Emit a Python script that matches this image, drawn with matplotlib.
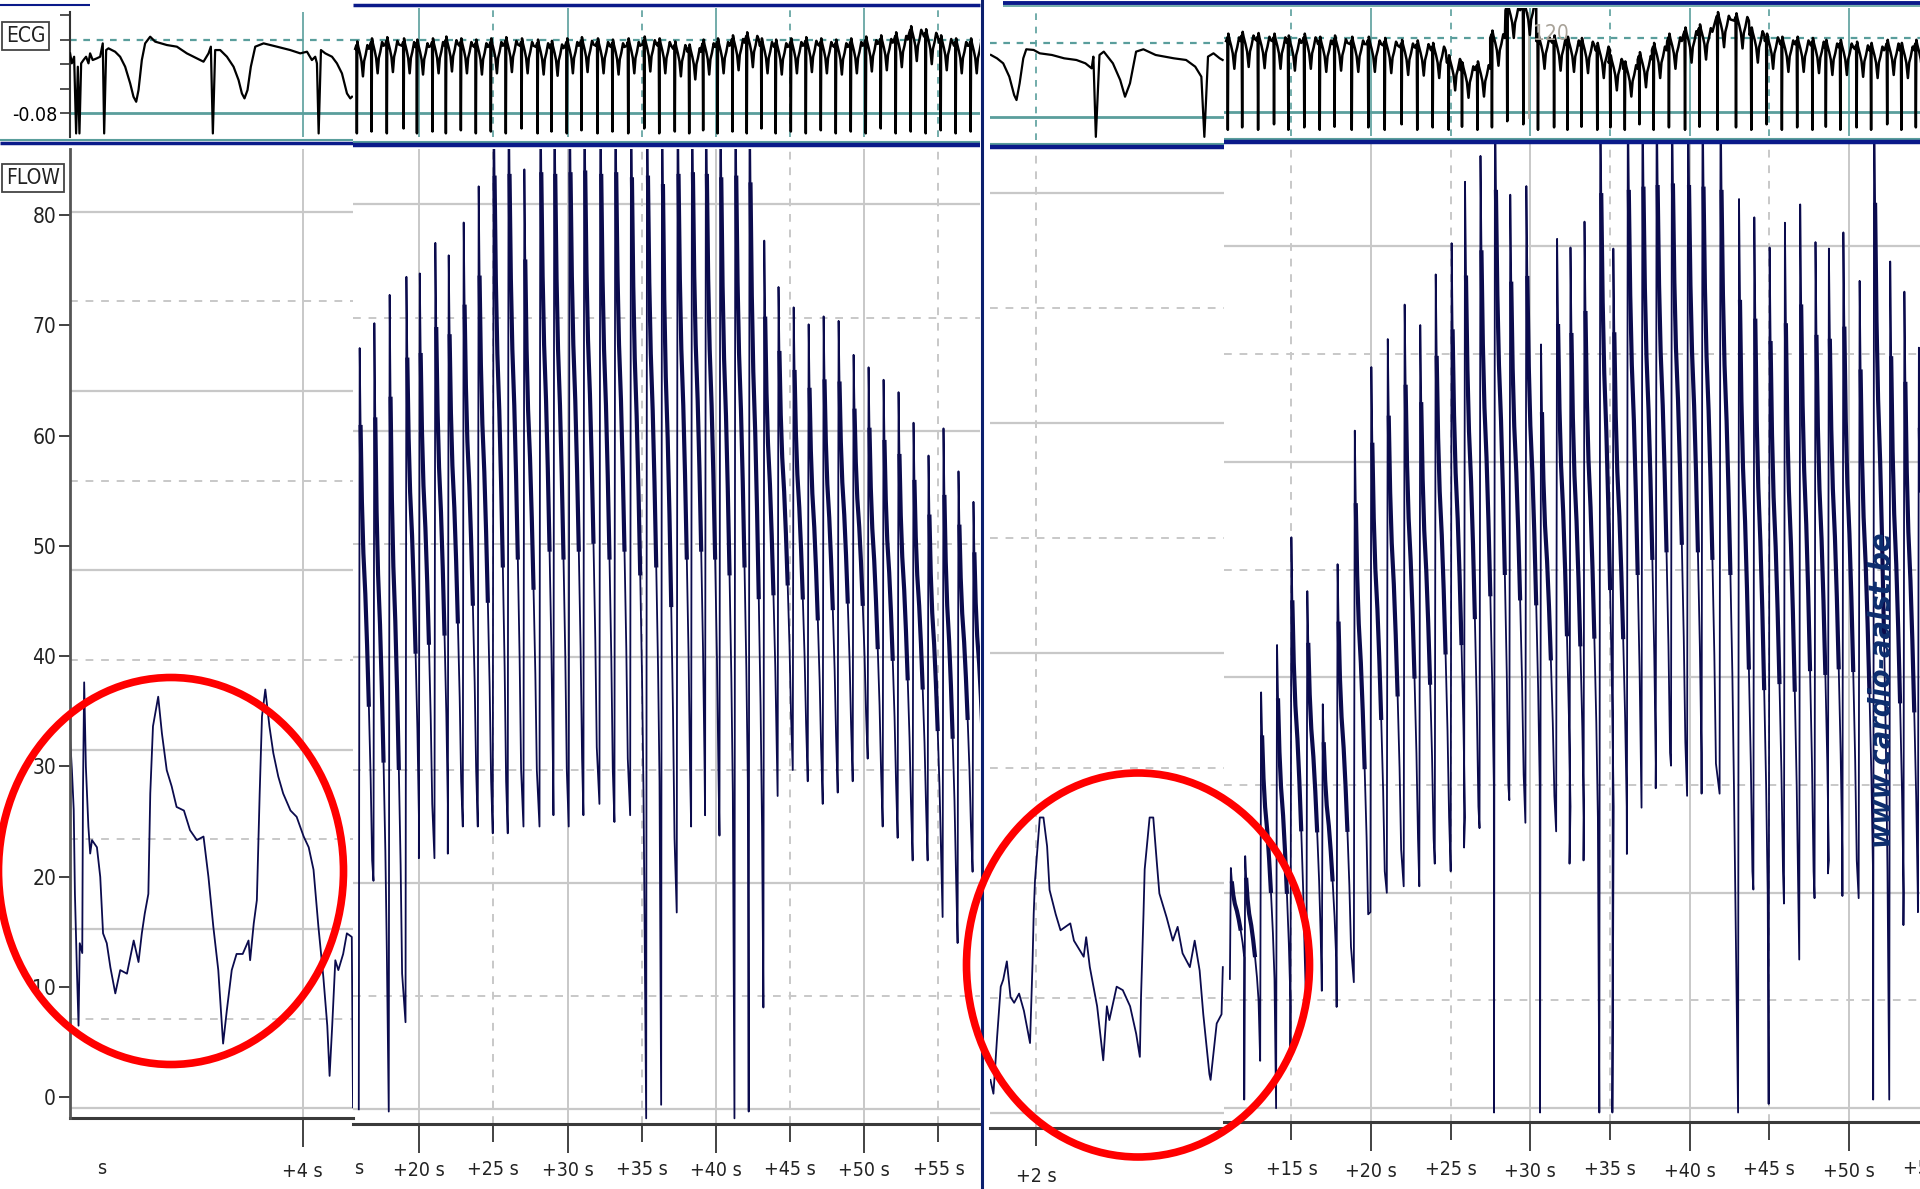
import matplotlib
matplotlib.use("Agg")
import matplotlib.pyplot as plt
from matplotlib.collections import LineCollection
from matplotlib.lines import Line2D
from matplotlib.patches import Ellipse

plt.rcParams["font.family"] = ["Liberation Sans Narrow", "DejaVu Sans"]
plt.rcParams["font.stretch"] = "condensed"

W, H = 1920, 1189
NAVY = "#0b0b4d"
GRID = "#c8c8c8"
TEAL = "#5a9e9c"
BAND = "#0a1a8a"

# ---- left recording, first (zoomed) strip: flow trace, own units ----
l1_t = [1.683, 1.702, 1.720, 1.732, 1.751, 1.768, 1.780, 1.805, 1.812, 1.824, 1.841, 1.866,
        1.884, 1.902, 1.951, 1.984, 2.012, 2.049, 2.085, 2.134, 2.183, 2.250, 2.317, 2.365,
        2.398, 2.427, 2.463, 2.482, 2.509, 2.561, 2.598, 2.646, 2.695, 2.744, 2.817, 2.878,
        2.946, 3.012, 3.061, 3.110, 3.159, 3.207, 3.244, 3.293, 3.341, 3.402, 3.460, 3.476,
        3.512, 3.543, 3.571, 3.594, 3.627, 3.668, 3.707, 3.756, 3.805, 3.878, 3.939, 4.009,
        4.059, 4.107, 4.156, 4.205, 4.244, 4.267, 4.293, 4.324, 4.354, 4.402, 4.439, 4.488, 4.50]
l1_flow = [41.4, 37.7, 33.3, 23.9, 15.7, 9.2, 18.4, 17.3, 35.1, 47.5, 38.1, 31.4,
           28.4, 29.9, 29.1, 25.8, 19.5, 18.4, 15.7, 12.8, 15.4, 15.0, 18.7, 16.3,
           19.5, 21.7, 23.9, 35.1, 42.6, 45.9, 41.8, 37.7, 35.9, 33.6, 33.2, 31.0,
           29.9, 30.3, 25.8, 20.2, 15.4, 7.2, 10.9, 15.4, 17.2, 17.2, 18.7, 16.5,
           20.6, 23.2, 35.1, 43.7, 46.7, 42.6, 39.6, 37.0, 35.1, 33.2, 32.5, 30.3,
           29.1, 26.6, 20.2, 14.6, 9.2, 3.6, 9.2, 16.5, 15.4, 17.2, 19.5, 19.1, 0.1]

l1_ecg_t = [1.684, 1.701, 1.724, 1.744, 1.761, 1.777, 1.794, 1.817, 1.843, 1.867, 1.883, 1.909,
            1.949, 1.983, 2.009, 2.023, 2.043, 2.066, 2.099, 2.132, 2.182, 2.232, 2.282, 2.315,
            2.342, 2.365, 2.398, 2.431, 2.481, 2.531, 2.647, 2.747, 2.846, 2.946, 3.012, 3.062,
            3.085, 3.105, 3.128, 3.178, 3.245, 3.311, 3.361, 3.394, 3.420, 3.450, 3.483, 3.527,
            3.610, 3.743, 3.875, 3.975, 4.042, 4.091, 4.124, 4.141, 4.158, 4.181, 4.224, 4.291,
            4.340, 4.390, 4.440, 4.473, 4.490]
l1_ecg = [0.0175, 0.0012, 0.012, -0.1132, -0.0043, -0.1132, 0.0012, 0.0066, 0.012, 0.0012, 0.0175, 0.0066,
          0.0093, 0.012, 0.0338, -0.1132, 0.0229, 0.0257, 0.0229, 0.0202, 0.012, -0.0043, -0.0315, -0.0533,
          -0.0615, -0.0424, 0.0066, 0.0338, 0.0447, 0.0366, 0.0311, 0.0284, 0.0175, 0.0093, 0.0039, 0.0175,
          0.0284, -0.1132, 0.0229, 0.0229, 0.012, -0.0043, -0.0261, -0.0479, -0.0560, -0.0424, -0.0043, 0.0284,
          0.0338, 0.0284, 0.0229, 0.0175, 0.0202, 0.0066, 0.012, 0.0012, -0.1132, 0.0229, 0.0175, 0.012,
          0.0012, -0.0152, -0.0479, -0.0560, -0.0533]

# ---- left recording, compressed strip: one entry per beat ----
l2_beat_t = [15.99, 16.98, 18.01, 19.14, 20.04, 21.09, 21.99, 23.0, 24.01, 25.02, 26.03, 27.09,
             28.17, 29.11, 30.14, 31.13, 32.21, 33.22, 34.28, 35.36, 36.37, 37.42, 38.39, 39.33,
             40.3, 41.31, 42.27, 43.26, 44.22, 45.24, 46.25, 47.26, 48.27, 49.28, 50.29, 51.3,
             52.31, 53.32, 54.33, 55.34, 56.35, 57.36]
l2_peak = [67.3, 69.5, 72.0, 73.6, 73.9, 76.6, 75.5, 78.4, 81.6, 92, 92, 83.1,
           92, 92, 92, 92, 92, 92, 92, 92, 92, 92, 92, 92,
           92, 92, 92, 76.8, 72.7, 70.9, 69.4, 70.1, 69.7, 66.7, 65.6, 64.5,
           63.4, 60.7, 57.8, 60.2, 56.4, 53.7]
l2_dip = [0, 20.2, -0.2, 7.7, 22.2, 22.2, 22.6, 25, 25, 24.4, 24.4, 25,
          25, 26, 25, 26, 27, 25.4, 26, -0.8, 0.4, 17.4, 25, 26,
          24.2, -0.8, -0.2, 9, 27.7, 30, 29, 27, 28, 29, 31, 25,
          24, 22, 22, 17, 14.7, 21]
l2_low = [22, 14, 12, 26, 27, 27, 29, 30, 29, 29, 30, 30,
          31, 30, 31, 32, 30, 31, 28, 29, 24, 30, 31, 30,
          28, 29, 25, 32, 35, 34, 32, 33, 34, 35, 30, 29,
          27, 27, 23, 21, 25, 24]
l2_ecg_base = [0.025, 0.03, 0.032, 0.03, 0.028, 0.03, 0.033, 0.03, 0.028, 0.03, 0.032, 0.03,
               0.028, 0.026, 0.03, 0.032, 0.03, 0.028, 0.03, 0.033, 0.03, 0.025, 0.02, 0.028,
               0.03, 0.035, 0.04, 0.03, 0.028, 0.03, 0.032, 0.03, 0.028, 0.03, 0.033, 0.035,
               0.04, 0.05, 0.045, 0.035, 0.03, 0.03]
l2_ecg_spike = [-0.113, -0.11, -0.113, -0.105, -0.113, -0.11, -0.113, -0.108, -0.113, -0.11, -0.113, -0.105,
                -0.113, -0.11, -0.113, -0.108, -0.113, -0.11, -0.113, -0.105, -0.113, -0.11, -0.113, -0.108,
                -0.113, -0.11, -0.113, -0.105, -0.113, -0.11, -0.113, -0.108, -0.113, -0.11, -0.113, -0.105,
                -0.113, -0.11, -0.113, -0.108, -0.113, -0.11]

# ---- right recording, first (zoomed) strip ----
r1_t = [1.574, 1.602, 1.636, 1.670, 1.693, 1.727, 1.761, 1.795, 1.841, 1.886, 1.943, 1.966,
        1.977, 1.989, 2.034, 2.068, 2.102, 2.125, 2.182, 2.227, 2.318, 2.352, 2.443, 2.466,
        2.5, 2.568, 2.625, 2.659, 2.682, 2.75, 2.807, 2.875, 2.932, 2.966, 2.977, 3.0,
        3.011, 3.057, 3.091, 3.125, 3.148, 3.216, 3.273, 3.318, 3.364, 3.432, 3.477, 3.523,
        3.557, 3.614, 3.625, 3.682, 3.727, 3.739]
r1_flow = [2.9, 1.7, 6.6, 11.0, 11.6, 13.2, 10.1, 9.6, 10.4, 8.9, 6.1, 13.0,
           17.3, 20.2, 25.7, 25.7, 23.2, 19.4, 17.3, 15.9, 16.5, 15.0, 13.6, 15.3,
           12.7, 9.3, 4.6, 9.3, 8.1, 11.0, 10.7, 9.3, 6.9, 4.9, 10.1, 17.3,
           21.2, 25.7, 25.7, 21.7, 19.1, 17.0, 15.0, 16.2, 13.9, 12.7, 15.0, 12.4,
           8.6, 3.4, 2.9, 7.8, 8.6, 12.7]

r1_ecg_t = [1.579, 1.635, 1.693, 1.750, 1.795, 1.817, 1.846, 1.880, 1.908, 1.977, 2.033, 2.147,
            2.261, 2.375, 2.459, 2.517, 2.533, 2.556, 2.590, 2.630, 2.715, 2.783, 2.828, 2.874,
            2.931, 2.999, 3.113, 3.283, 3.397, 3.482, 3.539, 3.567, 3.601, 3.652, 3.710, 3.737]
r1_ecg = [0.0205, 0.0151, 0.0070, -0.0146, -0.0443, -0.0524, -0.0254, 0.0151, 0.0297, 0.0286, 0.0232, 0.0205,
          0.0151, 0.0124, 0.0070, -0.0011, 0.0178, -0.1119, 0.0205, 0.0259, 0.0070, -0.0200, -0.0470, -0.0254,
          0.0259, 0.0297, 0.0205, 0.0151, 0.0124, 0.0016, -0.0146, -0.1119, 0.0178, 0.0232, 0.0151, 0.0124]

# ---- right recording, compressed strip: one entry per beat ----
r2_beat_t = [11.2, 12.1, 13.1, 14.1, 15.0, 16.0, 16.97, 17.9, 18.98, 20.02, 21.05, 22.11,
             23.09, 24.06, 25.06, 25.9, 26.87, 27.78, 28.74, 29.75, 30.67, 31.68, 32.52, 33.4,
             34.39, 35.21, 36.12, 37.04, 37.93, 38.89, 39.9, 40.81, 41.94, 43.1, 44.06, 45.02,
             45.98, 46.94, 47.9, 48.74, 49.65, 50.67, 51.58, 52.59, 53.48, 54.39]
r2_peak = [22.3, 23.4, 38.6, 43, 53, 48, 37.5, 50.5, 62.9, 68.8, 71.4, 74.6,
           72.7, 77.4, 80.3, 86, 88.4, 95, 84.8, 85.6, 70.9, 80.7, 79.9, 82.3,
           95, 79.8, 95, 95, 95, 95, 95, 95, 95, 84.4, 82.7, 79.9,
           82.2, 83.9, 80.4, 79.8, 81.3, 76.8, 95, 78.6, 75.8, 70.6]
r2_dip = [12, 0.8, 4.4, 0, 4.7, 8.9, 10.9, 9.4, 11.7, 18.2, 20, 20.6,
          20.6, 22.7, 22, 24.2, 26, -0.4, 28.6, 26.5, -0.4, 25.7, 22.7, 23,
          -0.4, -0.4, 23.6, 27.9, 29.7, 31.8, 29, 29.2, 29.2, -0.4, 20.3, 0.4,
          19, 13.8, 19.5, 21.8, 19.7, 19.5, 0.8, 0.8, 17, 18.2]
r2_low = [14, 10, 12, 10, 14, 16, 14, 15, 18, 22, 24, 25,
          25, 27, 27, 28, 30, 30, 31, 30, 29, 28, 27, 27,
          28, 28, 30, 32, 33, 34, 33, 32, 30, 22, 20, 22,
          20, 22, 23, 24, 23, 22, 22, 20, 20, 21]
r2_ecg_base = [0.035, 0.038, 0.036, 0.035, 0.032, 0.035, 0.03, 0.032, 0.03, 0.03, 0.028, 0.025,
               0.024, 0.02, 0.0, -0.012, -0.01, 0.04, 0.085, 0.09, 0.035, 0.032, 0.03, 0.028,
               0.02, 0.0, -0.01, 0.005, 0.02, 0.035, 0.045, 0.05, 0.07, 0.068, 0.045, 0.035,
               0.03, 0.03, 0.028, 0.025, 0.025, 0.022, 0.02, 0.025, 0.02, 0.025]
r2_ecg_spike = [-0.109, -0.105, -0.109, -0.1, -0.109, -0.105, -0.109, -0.104, -0.109, -0.105, -0.109, -0.1,
                -0.109, -0.105, -0.109, -0.104, -0.109, -0.105, -0.095, -0.1, -0.109, -0.105, -0.109, -0.104,
                -0.109, -0.105, -0.109, -0.1, -0.109, -0.105, -0.109, -0.104, -0.109, -0.105, -0.109, -0.1,
                -0.109, -0.105, -0.109, -0.104, -0.109, -0.105, -0.109, -0.1, -0.109, -0.105]
r2_marker_t = 29.93
r2_marker_label = "120"

flow_axis_ticks = [0, 10, 20, 30, 40, 50, 60, 70, 80]
ecg_axis_ticks = [-0.08, -0.04, 0.0, 0.04, 0.08]

# shape of one compressed beat (seconds after the upstroke, fraction of peak-low)
DECAY_DT = [0.06, 0.15, 0.25, 0.38, 0.5, 0.62, 0.74, 0.84]
DECAY_FRAC = [0.85, 0.7, 0.6, 0.52, 0.42, 0.3, 0.16, 0.0]
ECG_DT = [-0.30, -0.22, -0.19, -0.16, -0.10, 0.02, 0.12, 0.22, 0.30, 0.40, 0.52, 0.62]
ECG_REL = [0.0, 0.006, None, 0.012, 0.004, -0.008, -0.02, -0.045, -0.02, -0.01, 0.006, 0.0]
LABEL_Y = 1169


def box(x0, x1, top, bottom):
    return [x0 / W, 1 - bottom / H, (x1 - x0) / W, (bottom - top) / H]


def bare(ax):
    for s in ax.spines.values():
        s.set_visible(False)
    ax.set_xticks([])
    ax.set_yticks([])
    ax.patch.set_alpha(0)


def flow_beats(times, dips, peaks, lows):
    t, v, thick = [], [], []
    for tk, d, p, lo in zip(times, dips, peaks, lows):
        t += [tk - 0.06, tk]
        v += [d, p]
        seg = []
        for dt, f in zip(DECAY_DT, DECAY_FRAC):
            t.append(tk + dt)
            v.append(lo + f * (p - lo))
            if dt <= 0.62:
                seg.append((tk + dt, lo + f * (p - lo)))
        thick.append(seg)
    return t, v, thick


def ecg_beats(times, bases, spikes):
    t, v = [], []
    for tk, b, sp in zip(times, bases, spikes):
        for dt, rel in zip(ECG_DT, ECG_REL):
            t.append(tk + dt)
            v.append(sp if rel is None else b + rel)
    return t, v


def flow_grid(ax, ylo, yhi, vsolid, vdash):
    for y in range(0, 101, 10):
        if ylo <= y <= yhi:
            if y % 20 == 0:
                ax.axhline(y, color=GRID, lw=1.6, zorder=0)
            else:
                ax.axhline(y, color=GRID, lw=1.4, ls=(0, (4, 4)), zorder=0)
    for x in vsolid:
        ax.axvline(x, color=GRID, lw=1.4, zorder=0)
    for x in vdash:
        ax.axvline(x, color=GRID, lw=1.4, ls=(0, (4, 4)), zorder=0)


def ecg_grid(ax, vsolid, vdash):
    ax.axhline(-0.08, color=TEAL, lw=2.0, zorder=0)
    ax.axhline(0.04, color=TEAL, lw=1.6, ls=(0, (3, 3)), zorder=0)
    for x in vsolid:
        ax.axvline(x, color=TEAL, lw=1.2, zorder=0)
    for x in vdash:
        ax.axvline(x, color=TEAL, lw=1.2, ls=(0, (4, 4)), zorder=0)


def time_axis(ax, major, major_lab, minor, minor_lab, extra_pad=0):
    for s in ("top", "right", "left"):
        ax.spines[s].set_visible(False)
    ax.spines["bottom"].set_color("#3a3a3a")
    ax.spines["bottom"].set_linewidth(2.2)
    ax.set_yticks([])
    ax.set_xticks(major, major_lab)
    ax.set_xticks(minor, minor_lab, minor=True)
    ax.tick_params(axis="x", which="major", length=21, width=1.2, pad=6 + extra_pad,
                   color="#222222", labelsize=14, labelcolor="#222222")
    ax.tick_params(axis="x", which="minor", length=13, width=1.2, pad=13 + extra_pad,
                   color="#222222", labelsize=14, labelcolor="#222222")
    ax.patch.set_alpha(0)


def draw_flow(ax, t, v, thick=None):
    ax.plot(t, v, color=NAVY, lw=1.3, zorder=3)
    if thick:
        ax.add_collection(LineCollection(thick, colors=NAVY, linewidths=3.0, zorder=3))


def strip_label(ax, x, text, y=LABEL_Y):
    trans = ax.get_xaxis_transform() + fig.transFigure.inverted()
    xf = trans.transform((x, 0))[0]
    fig.text(xf, 1 - y / H, text, ha="center", va="center", fontsize=14, color="#222222")


fig = plt.figure(figsize=(W / 100, H / 100), dpi=100)

# ---------------- left recording ----------------
ax = fig.add_axes(box(70, 353, 149, 1118))
ax.set_xlim(1.683, 4.5)
ax.set_ylim(-1.1, 107)
flow_grid(ax, -1.1, 107, [4], [])
draw_flow(ax, l1_t, l1_flow)
time_axis(ax, [4], ["+4 s"], [], [], extra_pad=4.5)
strip_label(ax, 2.0, "s")

ax = fig.add_axes(box(70, 353, 149, 1118))
ax.set_ylim(-1.9, 86)
bare(ax)
ax.spines["left"].set_visible(True)
ax.spines["left"].set_color("#555555")
ax.spines["left"].set_linewidth(2.0)
ax.set_yticks(flow_axis_ticks, [str(v) for v in flow_axis_ticks])
ax.tick_params(axis="y", length=8, width=1.3, pad=2, color="#333333", labelsize=15,
               labelcolor="#222222")

l2_t, l2_v, l2_thick = flow_beats(l2_beat_t, l2_dip, l2_peak, l2_low)
ax = fig.add_axes(box(353, 980, 149, 1124))
ax.set_xlim(15.54, 57.8)
ax.set_ylim(-1.3, 84.9)
flow_grid(ax, -1.3, 84.9, [20, 30, 40, 50], [25, 35, 45, 55])
draw_flow(ax, l2_t, l2_v, l2_thick)
time_axis(ax, [20, 30, 40, 50], ["+20 s", "+30 s", "+40 s", "+50 s"],
          [25, 35, 45, 55], ["+25 s", "+35 s", "+45 s", "+55 s"])
strip_label(ax, 15.95, "s")

ax = fig.add_axes(box(70, 353, 12, 137))
ax.set_xlim(1.683, 4.5)
ax.set_ylim(-0.119, 0.085)
ecg_grid(ax, [4], [])
ax.plot(l1_ecg_t, l1_ecg, color="black", lw=1.6, zorder=3)
for s in ("top", "right", "bottom"):
    ax.spines[s].set_visible(False)
ax.spines["left"].set_color("#333333")
ax.spines["left"].set_linewidth(1.5)
ax.set_xticks([])
ax.set_yticks(ecg_axis_ticks, ["-0.08", "", "", "", ""])
ax.tick_params(axis="y", length=7, width=1.2, pad=2, labelsize=14, color="#333333")
ax.patch.set_alpha(0)

l2e_t, l2e_v = ecg_beats(l2_beat_t, l2_ecg_base, l2_ecg_spike)
ax = fig.add_axes(box(353, 980, 8, 137))
ax.set_xlim(15.54, 57.8)
ax.set_ylim(-0.119, 0.0916)
ecg_grid(ax, [20, 30, 40, 50], [25, 35, 45, 55])
ax.plot(l2e_t, l2e_v, color="black", lw=1.8, zorder=3)
bare(ax)

# ---------------- right recording ----------------
ax = fig.add_axes(box(990, 1224, 150, 1128))
ax.set_xlim(1.57, 3.75)
ax.set_ylim(-1.28, 83.7)
flow_grid(ax, -1.28, 83.7, [], [2])
draw_flow(ax, r1_t, r1_flow)
time_axis(ax, [], [], [2], ["+2 s"], extra_pad=2)

r2_t, r2_v, r2_thick = flow_beats(r2_beat_t, r2_dip, r2_peak, r2_low)
ax = fig.add_axes(box(1224, 1920, 143, 1122))
ax.set_xlim(10.77, 54.46)
ax.set_ylim(-1.28, 89.6)
flow_grid(ax, -1.28, 89.6, [20, 30, 40, 50], [15, 25, 35, 45])
draw_flow(ax, r2_t, r2_v, r2_thick)
time_axis(ax, [20, 30, 40, 50], ["+20 s", "+30 s", "+40 s", "+50 s"],
          [15, 25, 35, 45], ["+15 s", "+25 s", "+35 s", "+45 s"], extra_pad=1.5)
strip_label(ax, 11.0, "s")
strip_label(ax, 55.0, "+55 s")

ax = fig.add_axes(box(990, 1224, 12, 140))
ax.set_xlim(1.57, 3.75)
ax.set_ylim(-0.117, 0.090)
ecg_grid(ax, [], [2])
ax.plot(r1_ecg_t, r1_ecg, color="black", lw=1.6, zorder=3)
bare(ax)

r2e_t, r2e_v = ecg_beats(r2_beat_t, r2_ecg_base, r2_ecg_spike)
ax = fig.add_axes(box(1224, 1920, 8, 136))
ax.set_xlim(10.77, 54.46)
ax.set_ylim(-0.119, 0.0886)
ecg_grid(ax, [20, 30, 40, 50], [15, 25, 35, 45])
ax.plot([r2_marker_t, r2_marker_t], [-0.09, 0.081], color="#b0aaa0", lw=1.3, zorder=2)
ax.plot(r2e_t, r2e_v, color="black", lw=1.8, zorder=3)
ax.text(r2_marker_t + 0.25, 0.046, r2_marker_label, color="#a8a298", fontsize=15,
        ha="left", va="center", zorder=4)
bare(ax)

# ---------------- frame lines and bands ----------------
def hline(x0, x1, y, color, lw):
    fig.add_artist(Line2D([x0 / W, x1 / W], [1 - y / H, 1 - y / H], color=color, lw=lw,
                          transform=fig.transFigure, solid_capstyle="butt"))


hline(0, 90, 5, BAND, 1.5)
hline(353, 980, 5, BAND, 2.5)
hline(1003, 1920, 3, BAND, 2.8)
hline(1003, 1920, 6, TEAL, 1.2)
hline(0, 353, 140, TEAL, 1.5)
hline(0, 353, 143, BAND, 2.5)
hline(353, 980, 142, TEAL, 1.5)
hline(353, 980, 145, BAND, 3.2)
hline(990, 1224, 144, TEAL, 1.5)
hline(990, 1224, 147, BAND, 3.2)
hline(1224, 1920, 139, TEAL, 1.5)
hline(1224, 1920, 142, BAND, 3.2)
fig.add_artist(Line2D([982 / W, 982 / W], [0, 1], color="#0b1f6e", lw=2.2,
                      transform=fig.transFigure))

# channel name boxes
for label, y in (("ECG", 36), ("FLOW", 178)):
    fig.text(6 / W, 1 - y / H, label, ha="left", va="center", fontsize=15, color="#222222",
             bbox=dict(boxstyle="square,pad=0.18", fc="white", ec="#444444", lw=1.3))

# highlighted regions
fig.add_artist(Ellipse((171 / W, 1 - 871 / H), 345 / W, 387 / H, transform=fig.transFigure,
                       fill=False, ec="#ff0000", lw=5.5, zorder=10))
fig.add_artist(Ellipse((1138 / W, 1 - 965 / H), 343 / W, 384 / H, transform=fig.transFigure,
                       fill=False, ec="#ff0000", lw=5.5, zorder=10))

fig.text(1880 / W, 1 - 688 / H, "www.cardio-aalst.be", rotation=90, ha="center", va="center",
         color="#0d2d6e", fontsize=22, fontweight="bold", fontstyle="italic", zorder=11)

fig.savefig("out.png", dpi=100)
